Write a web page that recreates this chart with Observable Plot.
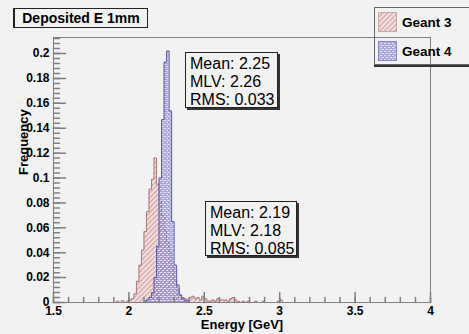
<!DOCTYPE html>
<html>
<head>
<meta charset="utf-8">
<script src="https://cdn.jsdelivr.net/npm/d3@7"></script>
<script src="https://cdn.jsdelivr.net/npm/@observablehq/plot@0.6"></script>
<style>
  html, body { margin: 0; padding: 0; background: #ffffff; }
  #wrap { position: relative; width: 469px; height: 334px; overflow: hidden; background: #f2f2f2; font-family: "Liberation Sans", Arial, sans-serif; }
  #wrap svg.plot { position: absolute; left: 0; top: 0; }
  .box { position: absolute; border: 1px solid #222; box-sizing: border-box; color: #000; }
  .title { left: 13px; top: 8px; width: 135px; height: 20px; font-weight: bold; font-size: 14px; line-height: 18px; text-align: center; border-left-width: 2px; }
  .stats { font-size: 16px; line-height: 18px; padding: 2px 0 0 4px; overflow: hidden; box-shadow: 2px 2px 0 #333; background: transparent; white-space: nowrap; }
  .legend { left: 374px; top: 7px; width: 110px; height: 58px; border-color: #666; box-shadow: 0 2px 0 #333; }
  .entry { position: absolute; left: 3px; height: 20px; display: flex; align-items: center; font-weight: bold; font-size: 13.5px; }
  .entry svg { margin-right: 5px; }
</style>
</head>
<body>
<svg width="0" height="0" style="position:absolute">
  <defs>
    <pattern id="g3hatch" width="3.5" height="3.5" patternUnits="userSpaceOnUse" patternTransform="rotate(45)">
      <rect width="3.5" height="3.5" fill="#f0d6d6" fill-opacity="0.75"/>
      <line x1="0.5" y1="0" x2="0.5" y2="3.5" stroke="#d59e9e" stroke-width="1.3"/>
    </pattern>
    <pattern id="g4cross" width="4" height="4" patternUnits="userSpaceOnUse">
      <rect width="4" height="4" fill="#7c78c8" fill-opacity="0.6"/>
      <rect x="0" y="0" width="2" height="1" fill="#f2f2fa" fill-opacity="0.8"/>
      <rect x="2" y="2" width="2" height="1" fill="#f2f2fa" fill-opacity="0.8"/>
      <rect x="3" y="0" width="1" height="1" fill="#f2f2fa" fill-opacity="0.5"/>
    </pattern>
  </defs>
</svg>
<div id="wrap"></div>
<script>
// ---- data (normalized frequency per bin) ----
const binWidth = 1 / 60;          // GeV
const g3Start = 1.9;              // lower edge of first Geant 3 bin
const g3Freq = [
  0, 0.001, 0, 0.0015, 0, 0.001, 0.002, 0.003, 0.007, 0.017,
  0.030, 0.042, 0.057, 0.073, 0.091, 0.099, 0.116, 0.095, 0.082, 0.070,
  0.058, 0.048, 0.040, 0.028, 0.018, 0.011, 0.006, 0.004, 0.003, 0.002,
  0.004, 0.005, 0.003, 0.004, 0.002, 0.005, 0.003, 0.001, 0.001, 0.002,
  0.001, 0.003, 0.002, 0.002, 0.002, 0.001, 0.003, 0.004, 0.002, 0.001,
  0, 0.001, 0, 0.001, 0, 0, 0.001, 0, 0, 0.001,
  0, 0, 0, 0, 0, 0.001, 0.002
];
const g4Start = 2.1;              // lower edge of first Geant 4 bin
const g4Freq = [
  0.001, 0.002, 0.004, 0.008, 0.020, 0.045, 0.100, 0.147, 0.193, 0.202,
  0.154, 0.065, 0.030, 0.014, 0.006, 0.003, 0.0015, 0.001
];
const seriesNames = ["Geant 3", "Geant 4"];
const statsG4 = ["Mean: 2.25", "MLV: 2.26", "RMS: 0.033"];
const statsG3 = ["Mean: 2.19", "MLV: 2.18", "RMS: 0.085"];
const titleText = "Deposited E 1mm";
const xLabel = "Energy [GeV]";
const yLabel = "Frequency";
const xMajor = [1.5, 2, 2.5, 3, 3.5, 4];
const yMajor = [0, 0.02, 0.04, 0.06, 0.08, 0.1, 0.12, 0.14, 0.16, 0.18, 0.2];
const xMinor = d3.range(1.5, 4.0001, 0.1);
const yMinor = d3.range(0, 0.2125, 0.004);

// ---- build step outlines ----
function outline(start, freq) {
  const pts = [{x: start, y: 0}];
  freq.forEach((f, i) => pts.push({x: start + i * binWidth, y: f}));
  pts.push({x: start + freq.length * binWidth, y: 0});
  return pts;
}
const g3Line = outline(g3Start, g3Freq);
const g4Line = outline(g4Start, g4Freq);

const tickShape = {draw(ctx, l) { ctx.moveTo(0, 0); ctx.lineTo(0, -l); }};

const chart = Plot.plot({
  width: 469,
  height: 334,
  marginLeft: 53,
  marginRight: 39,
  marginTop: 37,
  marginBottom: 32,
  style: {background: "transparent", fontFamily: "Liberation Sans, Arial, sans-serif", fontSize: "12px", fontWeight: "bold", color: "#000"},
  x: {domain: [1.5, 4], ticks: xMajor, tickSize: 0, tickPadding: 4, tickFormat: d => String(d), label: null},
  y: {domain: [0, 0.2129], ticks: yMajor, tickSize: 0, tickPadding: 4, tickFormat: d => String(d), label: null},
  marks: [
    Plot.areaY(g3Line, {x: "x", y: "y", curve: "step-after", fill: "url(#g3hatch)"}),
    Plot.line(g3Line, {x: "x", y: "y", curve: "step-after", stroke: "#a97a7a", strokeWidth: 1}),
    Plot.areaY(g4Line, {x: "x", y: "y", curve: "step-after", fill: "url(#g4cross)"}),
    Plot.line(g4Line, {x: "x", y: "y", curve: "step-after", stroke: "#5a5aa0", strokeWidth: 1}),
    Plot.frame({stroke: "#808080"}),
    Plot.vector(yMinor, {y: d => d, frameAnchor: "left", length: 6, rotate: 90, anchor: "start", shape: tickShape, stroke: "#808080"}),
    Plot.vector(yMajor, {y: d => d, frameAnchor: "left", length: 12, rotate: 90, anchor: "start", shape: tickShape, stroke: "#808080"}),
    Plot.vector(xMinor, {x: d => d, frameAnchor: "bottom", length: 5, anchor: "start", shape: tickShape, stroke: "#808080"}),
    Plot.vector(xMajor, {x: d => d, frameAnchor: "bottom", length: 10, anchor: "start", shape: tickShape, stroke: "#808080"}),
    Plot.text([xLabel], {frameAnchor: "bottom", dy: 22, fontSize: 13, fontWeight: "bold", lineAnchor: "middle"}),
    Plot.text([yLabel], {frameAnchor: "left", dx: -30, dy: 5, rotate: -90, fontSize: 13, fontWeight: "bold", lineAnchor: "middle"})
  ]
});
chart.classList.add("plot");
const wrap = document.getElementById("wrap");
wrap.appendChild(chart);

// ---- overlays: title, stats boxes, legend ----
function addBox(cls, css, html) {
  const d = document.createElement("div");
  d.className = "box " + cls;
  Object.assign(d.style, css);
  d.innerHTML = html;
  wrap.appendChild(d);
  return d;
}
addBox("title", {}, titleText);
addBox("stats", {left: "185px", top: "52px", width: "93px", height: "56px"}, statsG4.join("<br>"));
addBox("stats", {left: "205px", top: "201px", width: "92px", height: "55px"}, statsG3.join("<br>"));
const fills = ["url(#g3hatch)", "url(#g4cross)"];
const strokes = ["#c9a6a6", "#8a8ac0"];
const leg = addBox("legend", {}, "");
seriesNames.forEach((name, i) => {
  const e = document.createElement("div");
  e.className = "entry";
  e.style.top = (i === 0 ? 4 : 33) + "px";
  e.innerHTML = `<svg width="19" height="20"><rect x="0.5" y="0.5" width="18" height="19" fill="${fills[i]}" stroke="${strokes[i]}"/></svg>${name}`;
  leg.appendChild(e);
});
</script>
</body>
</html>
